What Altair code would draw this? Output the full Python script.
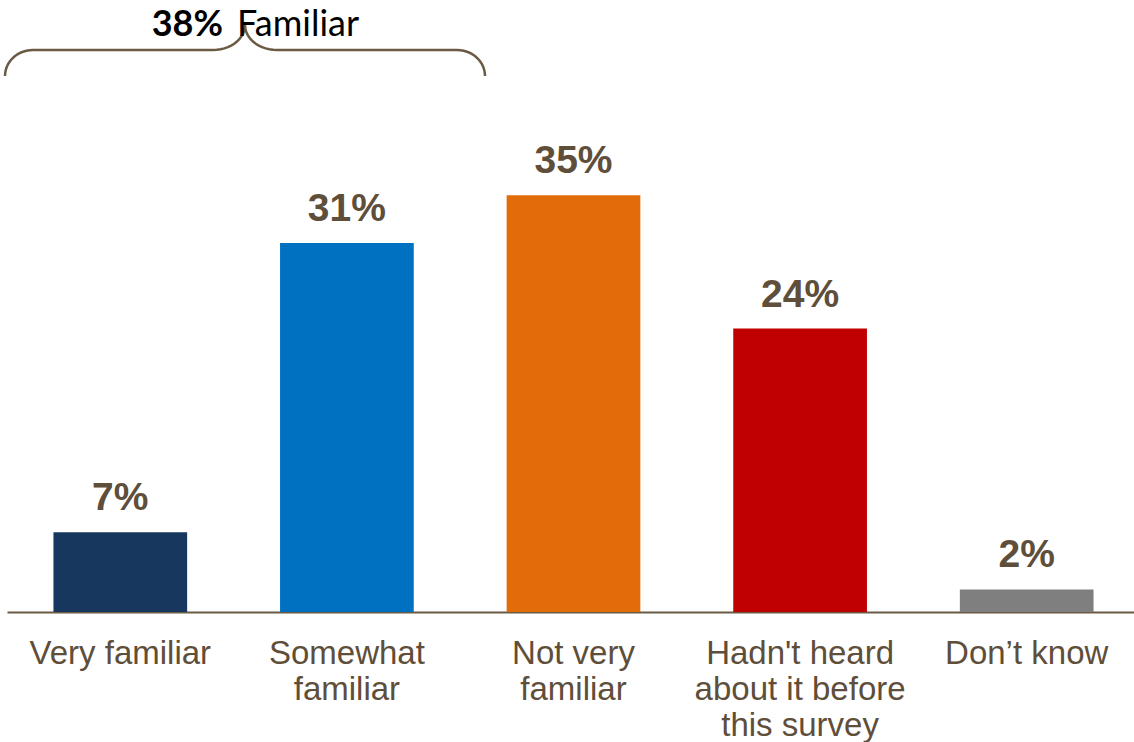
import altair as alt
import numpy as np
import pandas as pd

# ---- data ----
categories = [
    "Very familiar",
    "Somewhat\nfamiliar",
    "Not very\nfamiliar",
    "Hadn't heard\nabout it before\nthis survey",
    "Don\u2019t know",
]
values = [6.7, 31.0, 35.0, 23.8, 1.9]
bar_colors = ["#17375E", "#0070C0", "#E36C0A", "#C00000", "#7F7F7F"]
bracket_total = "38%"
bracket_label = "Familiar"

TEXT = "#5E4E3A"
BRACE = "#6B5A44"

df = pd.DataFrame({"cat": categories, "value": values, "color": bar_colors})

xenc = alt.X(
    "cat:N",
    sort=categories,
    scale=alt.Scale(range=[7, 1140], paddingInner=0.41, paddingOuter=0.205),
    axis=alt.Axis(
        title=None,
        labelExpr="split(datum.label, '\\n')",
        labelAngle=0,
        labelFont="Liberation Sans",
        labelFontSize=33,
        labelColor=TEXT,
        labelPadding=25,
        labelLineHeight=36,
        labelBaseline="top",
        labelLimit=0,
        labelOverlap=False,
        ticks=False,
        domainColor=BRACE,
        domainWidth=2,
        grid=False,
    ),
)
yenc = alt.Y("value:Q", scale=alt.Scale(domain=[0, 51.4], nice=False, zero=True), axis=None)

base = alt.Chart(df)
bars = base.mark_bar().encode(x=xenc, y=yenc, color=alt.Color("color:N", scale=None))
labels = (
    base.transform_calculate(lab="format(datum.value, '.0f') + '%'")
    .mark_text(
        dy=-22,
        baseline="alphabetic",
        font="Liberation Sans",
        fontSize=39,
        fontWeight="bold",
        color=TEXT,
    )
    .encode(x=xenc, y=yenc, text="lab:N")
)
data_layer = alt.layer(bars, labels)

# ---- curly brace annotation (pixel space) ----
t = np.linspace(np.pi, np.pi / 2, 14)
lx1 = 33 + 28 * np.cos(t)
ly1 = 76 - 26 * np.sin(t)
p = np.linspace(0, np.pi / 2, 14)
lx2 = 213 + 32 * np.sin(p)
ly2 = 25 + 25 * np.cos(p)
left_x = np.concatenate([lx1, lx2])
left_y = np.concatenate([ly1, ly2])
right_x = (490 - left_x)[::-1]
right_y = left_y[::-1]
bx = np.concatenate([left_x, right_x])
by = np.concatenate([left_y, right_y])
brace_df = pd.DataFrame({"x": bx, "y": by, "i": np.arange(len(bx))})

px = alt.Scale(domain=[0, 1134], nice=False, zero=False)
py = alt.Scale(domain=[612, 0], nice=False, zero=False)

brace = alt.Chart(brace_df).mark_line(color=BRACE, strokeWidth=2.5).encode(
    x=alt.X("x:Q", scale=px, axis=None),
    y=alt.Y("y:Q", scale=py, axis=None),
    order="i:Q",
)
t1 = alt.Chart(pd.DataFrame({"x": [223], "y": [36], "t": [bracket_total]})).mark_text(
    align="right", baseline="alphabetic", font="Lato", fontSize=36, fontWeight="bold", color="black"
).encode(x=alt.X("x:Q", scale=px, axis=None), y=alt.Y("y:Q", scale=py, axis=None), text="t:N")
t2 = alt.Chart(pd.DataFrame({"x": [237], "y": [36], "t": [bracket_label]})).mark_text(
    align="left", baseline="alphabetic", font="Lato", fontSize=36, color="black"
).encode(x=alt.X("x:Q", scale=px, axis=None), y=alt.Y("y:Q", scale=py, axis=None), text="t:N")
annot_layer = alt.layer(brace, t1, t2)

chart = (
    alt.layer(data_layer, annot_layer)
    .resolve_scale(x="independent", y="independent")
    .properties(
        width=1134,
        height=612,
        padding={"left": 0, "top": 0, "right": 0, "bottom": 130},
        autosize=alt.AutoSizeParams(type="none"),
        background="white",
    )
    .configure_view(stroke=None)
)

chart.save("out.html", embed_options={"renderer": "svg", "actions": False})
